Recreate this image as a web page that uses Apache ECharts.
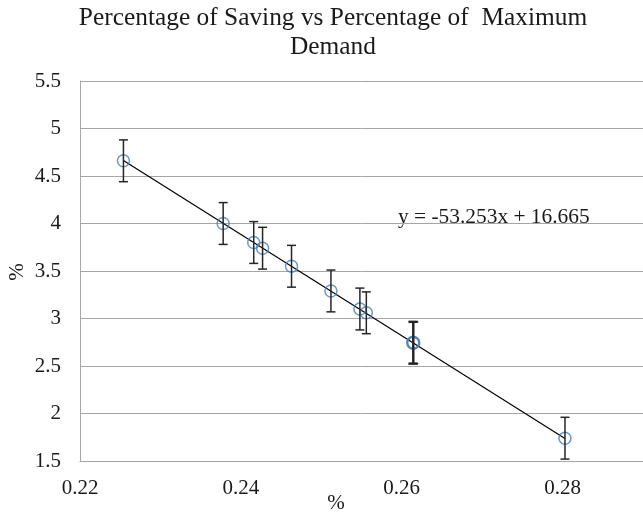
<!DOCTYPE html>
<html>
<head>
<meta charset="utf-8">
<script src="https://cdn.jsdelivr.net/npm/echarts@6/dist/echarts.min.js"></script>
<style>html,body{margin:0;padding:0;background:#fff;}#c{width:643px;height:513px;}</style>
</head>
<body>
<div id="c"></div>
<script>
// Data
const xValues = [0.2254, 0.2378, 0.2416, 0.2427, 0.2463, 0.2512, 0.2548, 0.2556, 0.2614, 0.2614, 0.2615, 0.2803];
const yValues = [4.66, 4.00, 3.80, 3.74, 3.55, 3.29, 3.10, 3.06, 2.75, 2.74, 2.745, 1.74];
const errValues = [0.22, 0.22, 0.22, 0.22, 0.22, 0.22, 0.22, 0.22, 0.22, 0.22, 0.22, 0.22];
const trendX = [0.2254, 0.2803];
const trendY = [4.662, 1.738];
const xTicks = ['0.22', '0.24', '0.26', '0.28'];
const yTicks = ['1.5', '2', '2.5', '3', '3.5', '4', '4.5', '5', '5.5'];
const titleLines = ['Percentage of Saving vs Percentage of  Maximum', 'Demand'];
const equationText = 'y = -53.253x + 16.665';

const FONT = "'Liberation Serif', 'Times New Roman', serif";
const TXT = '#1a1a1a';
const GRID = '#a6a6a6';

const points = xValues.map((x, i) => [x, yValues[i], errValues[i]]);
const trend = trendX.map((x, i) => [x, trendY[i]]);

const chart = echarts.init(document.getElementById('c'));
chart.setOption({
  animation: false,
  backgroundColor: '#fff',
  grid: { left: 80, top: 81, width: 565, height: 380, containLabel: false },
  xAxis: {
    type: 'value', min: 0.22, max: 0.29, interval: 0.02,
    axisLine: { show: true, lineStyle: { color: GRID, width: 1 } },
    axisTick: { show: false },
    splitLine: { show: false },
    axisLabel: {
      color: TXT, fontFamily: FONT, fontSize: 21, margin: 17,
      showMaxLabel: false,
      formatter: v => { const s = v.toFixed(2); return xTicks.indexOf(s) >= 0 ? s : ''; }
    }
  },
  yAxis: {
    type: 'value', min: 1.5, max: 5.5, interval: 0.5,
    axisLine: { show: true, lineStyle: { color: GRID, width: 1 } },
    axisTick: { show: false },
    splitLine: { show: true, lineStyle: { color: GRID, width: 1 } },
    axisLabel: {
      color: TXT, fontFamily: FONT, fontSize: 21, margin: 19,
      formatter: v => { const s = String(+v.toFixed(1)); return yTicks.indexOf(s) >= 0 ? s : ''; }
    }
  },
  graphic: [
    { type: 'text', x: 333, y: 18.5, style: { text: titleLines[0], font: '25.4px ' + FONT, fill: TXT, align: 'center', verticalAlign: 'middle' } },
    { type: 'text', x: 333, y: 47.5, style: { text: titleLines[1], font: '25.4px ' + FONT, fill: TXT, align: 'center', verticalAlign: 'middle' } },
    { type: 'text', x: 336, y: 503.5, style: { text: '%', font: '21px ' + FONT, fill: TXT, align: 'center', verticalAlign: 'middle' } },
    { type: 'text', x: 17, y: 272, rotation: Math.PI / 2, style: { text: '%', font: '21px ' + FONT, fill: TXT, align: 'center', verticalAlign: 'middle' } },
    { type: 'text', x: 398, y: 217, style: { text: equationText, font: '21.4px ' + FONT, fill: TXT, align: 'left', verticalAlign: 'middle' } }
  ],
  series: [
    {
      type: 'line', data: trend, symbol: 'none', z: 2,
      lineStyle: { color: '#000', width: 1.2 }
    },
    {
      type: 'scatter', data: points.map(p => [p[0], p[1]]), symbol: 'circle', symbolSize: 12, z: 3,
      itemStyle: { color: 'rgba(0,0,0,0)', borderColor: '#4a7ebb', borderWidth: 1.5 }
    },
    {
      type: 'custom', data: points, z: 4,
      renderItem: (params, api) => {
        const x = api.value(0), y = api.value(1), e = api.value(2);
        const top = api.coord([x, y + e]);
        const bot = api.coord([x, y - e]);
        const hw = 4.5;
        const st = { stroke: '#262626', lineWidth: 1.5 };
        return {
          type: 'group',
          children: [
            { type: 'line', shape: { x1: top[0], y1: top[1], x2: bot[0], y2: bot[1] }, style: st },
            { type: 'line', shape: { x1: top[0] - hw, y1: top[1], x2: top[0] + hw, y2: top[1] }, style: st },
            { type: 'line', shape: { x1: bot[0] - hw, y1: bot[1], x2: bot[0] + hw, y2: bot[1] }, style: st }
          ]
        };
      }
    }
  ]
});
</script>
</body>
</html>
